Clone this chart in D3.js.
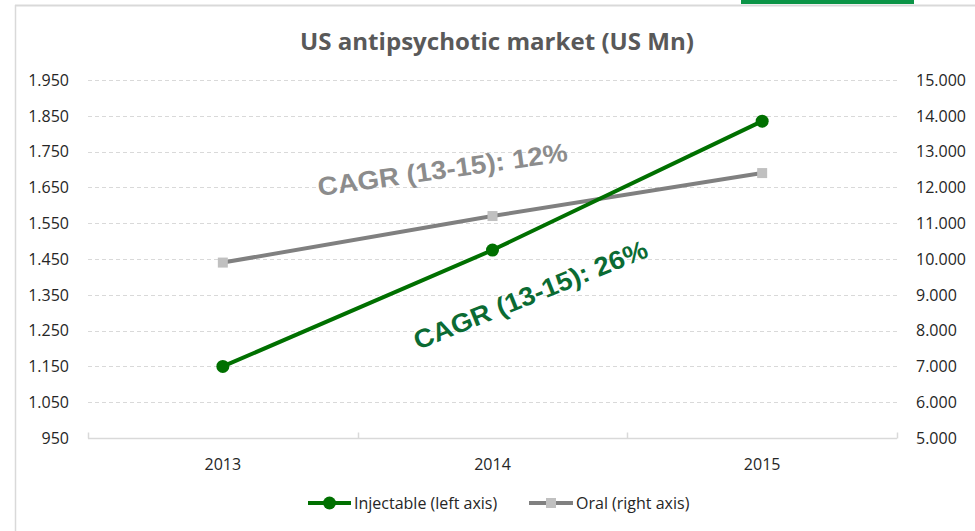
<!DOCTYPE html>
<html>
<head>
<meta charset="utf-8">
<script src="https://cdn.jsdelivr.net/npm/d3@7/dist/d3.min.js"></script>
<style>
  body { margin: 0; background: #fff; }
  svg { display: block; }
</style>
</head>
<body>
<div id="chart"></div>
<script>
// data
var years = ["2013", "2014", "2015"];
var injectable = [1150, 1475, 1835];   // left axis
var oral = [9900, 11200, 12400];       // right axis
var leftTicks = [950, 1050, 1150, 1250, 1350, 1450, 1550, 1650, 1750, 1850, 1950];
var rightTicks = [5000, 6000, 7000, 8000, 9000, 10000, 11000, 12000, 13000, 14000, 15000];
var seriesNames = ["Injectable (left axis)", "Oral (right axis)"];
var cagrLabels = ["CAGR (13-15): 12%", "CAGR (13-15): 26%"];

var width = 975, height = 531,
    margin = {top: 80, right: 78, bottom: 93, left: 88};

var svg = d3.select("#chart").append("svg")
    .attr("width", width)
    .attr("height", height);

// chart frame bits
svg.append("rect").attr("x", 741).attr("y", 0).attr("width", 173).attr("height", 4).style("fill", "#0b9447");
svg.append("line").attr("x1", 15).attr("x2", width).attr("y1", 5.5).attr("y2", 5.5)
    .style("stroke", "#d9d9d9").style("stroke-width", 2);
svg.append("line").attr("x1", 15.5).attr("x2", 15.5).attr("y1", 5).attr("y2", height)
    .style("stroke", "#d9d9d9").style("stroke-width", 1.5);

var x = d3.scaleBand().domain(years).range([margin.left, width - margin.right]);
var yL = d3.scaleLinear().domain([950, 1950]).range([height - margin.bottom, margin.top]);
var yR = d3.scaleLinear().domain([5000, 15000]).range([height - margin.bottom, margin.top]);

var loc = d3.formatLocale({decimal: ",", thousands: ".", grouping: [3], currency: ["", ""]});
var fmt = loc.format(",.0f");

var tickFont = "'Open Sans', 'Noto Sans', sans-serif";

// title
svg.append("text")
    .attr("x", 497).attr("y", 50)
    .attr("text-anchor", "middle")
    .style("font-family", tickFont)
    .style("font-weight", "bold")
    .style("font-size", "23px")
    .style("fill", "#595959")
    .attr("textLength", 394).attr("lengthAdjust", "spacingAndGlyphs")
    .text("US antipsychotic market (US Mn)");

// gridlines
svg.append("g").selectAll("line")
  .data(leftTicks.slice(1))
  .enter().append("line")
    .attr("x1", margin.left).attr("x2", width - margin.right)
    .attr("y1", d => Math.round(yL(d)) + 0.5).attr("y2", d => Math.round(yL(d)) + 0.5)
    .style("stroke", "#d9d9d9").style("stroke-dasharray", "4,3");

// baseline with category ticks
var base = Math.round(yL(950)) + 0.5;
svg.append("line")
    .attr("x1", margin.left).attr("x2", width - margin.right)
    .attr("y1", base).attr("y2", base)
    .style("stroke", "#d9d9d9").style("stroke-width", 1.5);
svg.append("g").selectAll("line")
  .data(d3.range(years.length + 1))
  .enter().append("line")
    .attr("x1", i => Math.round(margin.left + i * x.step()) + 0.5)
    .attr("x2", i => Math.round(margin.left + i * x.step()) + 0.5)
    .attr("y1", base).attr("y2", base - 6)
    .style("stroke", "#d9d9d9").style("stroke-width", 1.5);

// left axis labels
svg.append("g").selectAll("text")
  .data(leftTicks)
  .enter().append("text")
    .attr("x", 69).attr("y", d => yL(d))
    .attr("dy", "0.36em")
    .attr("text-anchor", "end")
    .style("font-family", tickFont).style("font-size", "16px").style("fill", "#262626")
    .text(d => fmt(d));

// right axis labels
svg.append("g").selectAll("text")
  .data(rightTicks)
  .enter().append("text")
    .attr("x", 916).attr("y", d => yR(d))
    .attr("dy", "0.36em")
    .style("font-family", tickFont).style("font-size", "16px").style("fill", "#262626")
    .text(d => fmt(d));

// x labels
svg.append("g").selectAll("text")
  .data(years)
  .enter().append("text")
    .attr("x", d => x(d) + x.bandwidth() / 2).attr("y", 470)
    .attr("text-anchor", "middle")
    .style("font-family", tickFont).style("font-size", "16px").style("fill", "#262626")
    .text(d => d);

var cx = (d, i) => x(years[i]) + x.bandwidth() / 2;

// oral line (right axis)
svg.append("path")
    .datum(oral)
    .attr("d", d3.line().x(cx).y(d => yR(d)))
    .style("fill", "none").style("stroke", "#808080").style("stroke-width", 4);
svg.append("g").selectAll("rect")
  .data(oral)
  .enter().append("rect")
    .attr("x", (d, i) => cx(d, i) - 5).attr("y", d => yR(d) - 5)
    .attr("width", 10).attr("height", 10)
    .style("fill", "#c0c0c0");

// injectable line (left axis)
svg.append("path")
    .datum(injectable)
    .attr("d", d3.line().x(cx).y(d => yL(d)))
    .style("fill", "none").style("stroke", "#007000").style("stroke-width", 4);
svg.append("g").selectAll("circle")
  .data(injectable)
  .enter().append("circle")
    .attr("cx", cx).attr("cy", d => yL(d)).attr("r", 6.5)
    .style("fill", "#007000");

// CAGR annotations
svg.append("text")
    .attr("transform", "translate(319,196) rotate(-8)")
    .style("font-family", "'Liberation Sans', Arial, sans-serif")
    .style("font-weight", "bold").style("font-size", "26px")
    .style("fill", "#8c8c8c")
    .attr("textLength", 252).attr("lengthAdjust", "spacingAndGlyphs")
    .text(cagrLabels[0]);

svg.append("text")
    .attr("transform", "translate(418,350) rotate(-22)")
    .style("font-family", "'Liberation Sans', Arial, sans-serif")
    .style("font-weight", "bold").style("font-size", "26px")
    .style("fill", "#0b6b33")
    .attr("textLength", 250).attr("lengthAdjust", "spacingAndGlyphs")
    .text(cagrLabels[1]);

// legend
var legend = svg.append("g");
var lg = [
  {name: seriesNames[0], x1: 308, x2: 351, color: "#007000", marker: "circle"},
  {name: seriesNames[1], x1: 529, x2: 573, color: "#808080", marker: "rect"}
];
lg.forEach(function(d) {
  legend.append("line")
    .attr("x1", d.x1).attr("x2", d.x2).attr("y1", 503).attr("y2", 503)
    .style("stroke", d.color).style("stroke-width", 4);
  var mid = (d.x1 + d.x2) / 2;
  if (d.marker === "circle") {
    legend.append("circle").attr("cx", mid).attr("cy", 503).attr("r", 6.5).style("fill", d.color);
  } else {
    legend.append("rect").attr("x", mid - 5).attr("y", 498).attr("width", 10).attr("height", 10).style("fill", "#c0c0c0");
  }
  legend.append("text")
    .attr("x", d.x2 + 3).attr("y", 503).attr("dy", "0.36em")
    .style("font-family", tickFont).style("font-size", "16px").style("fill", "#262626")
    .text(d.name);
});
</script>
</body>
</html>
